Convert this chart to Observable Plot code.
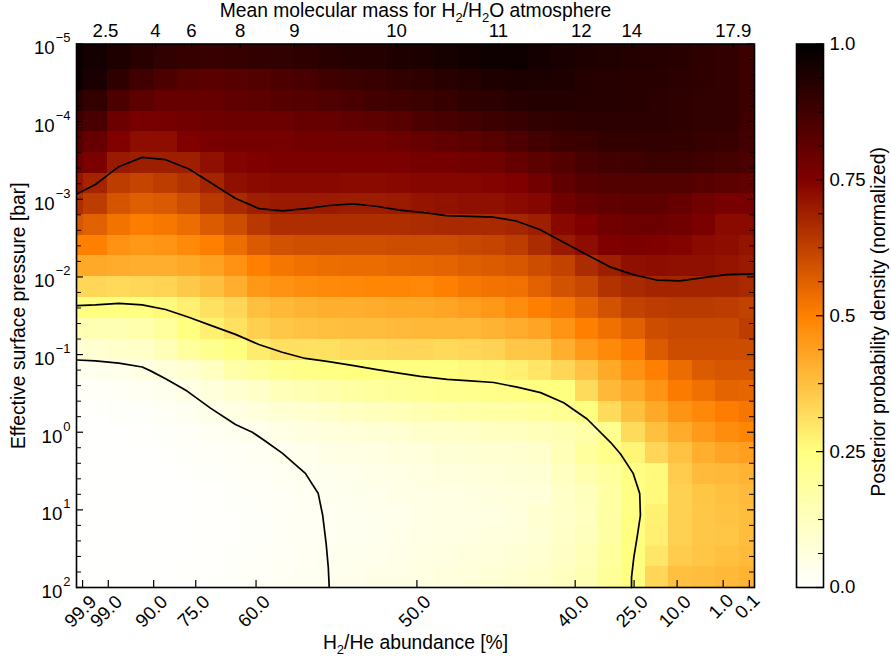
<!DOCTYPE html>
<html><head><meta charset="utf-8">
<style>html,body{margin:0;padding:0;background:#fff}#wrap{position:relative;width:891px;height:662px}#wrap svg{position:absolute;top:0}</style>
<script src="https://cdn.jsdelivr.net/npm/d3@7"></script>
<script src="https://cdn.jsdelivr.net/npm/@observablehq/plot@0.6"></script>
</head><body><div id="wrap"></div>
<script>
const FONT = "Liberation Sans";
// Cell edges: x in grid units of the abundance axis, y as log10(pressure / bar)
const xEdges = [0,0.31,1.31,2.31,3.31,4.31,5.31,6.31,7.31,8.31,9.31,10.31,11.31,12.31,13.31,14.31,15.32,16.33,17.33,18.33,19.33,20.33,21.33,22.33,23.33,24.33,25.33,26.33,27.33,28.35,29];
const logPEdges = [-5,-4.67,-4.4,-4.13,-3.87,-3.6,-3.33,-3.07,-2.8,-2.53,-2.27,-2,-1.73,-1.47,-1.2,-0.93,-0.67,-0.4,-0.13,0.13,0.4,0.67,0.93,1.2,1.47,1.73,2];
// Posterior density per row (top to bottom), per column (left to right)
const density = [
[.98,.96,.94,.92,.905,.895,.89,.895,.90,.905,.91,.92,.93,.93,.94,.945,.955,.965,.97,.97,.96,.95,.94,.935,.93,.925,.92,.91,.90,.88],
[.97,.95,.91,.875,.85,.83,.825,.83,.84,.85,.86,.875,.885,.89,.90,.91,.92,.93,.94,.945,.945,.94,.93,.925,.92,.92,.915,.91,.90,.88],
[.92,.90,.85,.82,.80,.80,.80,.81,.82,.83,.835,.845,.855,.87,.875,.885,.895,.91,.915,.925,.93,.93,.925,.925,.92,.915,.91,.905,.90,.88],
[.88,.86,.79,.765,.77,.775,.785,.79,.79,.79,.80,.80,.81,.82,.83,.85,.86,.87,.88,.89,.905,.91,.915,.915,.915,.915,.91,.905,.90,.875],
[.84,.80,.75,.725,.725,.75,.765,.77,.77,.77,.775,.775,.78,.78,.79,.80,.81,.82,.83,.85,.87,.88,.89,.90,.90,.905,.90,.895,.89,.87],
[.79,.76,.70,.69,.69,.69,.72,.745,.75,.755,.755,.755,.755,.755,.76,.77,.77,.775,.78,.80,.82,.84,.86,.87,.875,.885,.88,.875,.865,.855],
[.71,.68,.63,.615,.63,.65,.68,.72,.73,.735,.735,.735,.73,.73,.735,.74,.74,.74,.745,.75,.775,.81,.83,.84,.84,.84,.84,.83,.82,.81],
[.66,.63,.585,.565,.575,.60,.64,.67,.69,.70,.70,.70,.695,.695,.70,.71,.715,.72,.72,.73,.74,.78,.80,.81,.815,.815,.80,.78,.765,.765],
[.58,.56,.525,.505,.515,.535,.57,.60,.64,.66,.66,.66,.66,.66,.66,.665,.67,.67,.67,.675,.69,.735,.75,.78,.79,.79,.78,.76,.73,.73],
[.50,.50,.465,.455,.46,.48,.50,.535,.575,.59,.595,.595,.595,.595,.60,.60,.60,.61,.615,.63,.665,.70,.725,.75,.755,.75,.745,.73,.725,.71],
[.42,.42,.415,.41,.41,.42,.435,.465,.50,.52,.53,.535,.54,.54,.545,.55,.555,.565,.57,.58,.60,.62,.665,.69,.72,.725,.72,.72,.71,.70],
[.33,.33,.325,.33,.335,.355,.375,.41,.455,.465,.475,.48,.485,.49,.49,.485,.50,.515,.525,.53,.56,.59,.61,.65,.67,.68,.68,.68,.68,.67],
[.25,.25,.25,.25,.26,.28,.31,.33,.375,.39,.40,.41,.41,.415,.42,.42,.43,.44,.455,.475,.50,.52,.555,.59,.62,.63,.635,.635,.63,.62],
[.14,.15,.15,.16,.19,.25,.28,.31,.345,.36,.37,.375,.38,.38,.385,.39,.39,.39,.40,.415,.43,.46,.50,.53,.56,.60,.61,.61,.61,.63],
[.08,.09,.10,.11,.14,.19,.22,.25,.29,.31,.31,.31,.32,.325,.33,.33,.325,.33,.335,.36,.365,.41,.45,.48,.51,.57,.60,.60,.60,.60],
[.03,.035,.04,.055,.075,.09,.125,.17,.19,.22,.235,.245,.25,.25,.25,.25,.25,.26,.265,.28,.30,.33,.37,.42,.465,.50,.54,.57,.58,.58],
[.01,.015,.02,.025,.035,.05,.07,.09,.11,.135,.15,.165,.18,.19,.20,.21,.22,.225,.23,.24,.25,.25,.32,.39,.42,.46,.51,.53,.555,.55],
[.005,.005,.01,.012,.02,.03,.045,.055,.07,.085,.095,.105,.12,.13,.14,.15,.16,.17,.175,.18,.19,.21,.25,.32,.375,.42,.46,.485,.505,.52],
[.002,.003,.004,.006,.01,.015,.025,.03,.04,.05,.06,.07,.075,.08,.09,.10,.105,.11,.12,.125,.135,.15,.17,.22,.32,.375,.415,.45,.475,.49],
[.001,.002,.002,.003,.005,.01,.015,.02,.025,.035,.04,.05,.055,.06,.065,.07,.08,.085,.09,.095,.10,.14,.19,.23,.27,.33,.37,.41,.43,.44],
[.001,.001,.001,.002,.003,.006,.01,.013,.018,.025,.03,.035,.04,.045,.05,.06,.065,.07,.075,.08,.085,.12,.16,.19,.24,.26,.35,.385,.39,.40],
[.001,.001,.001,.001,.002,.004,.006,.01,.014,.02,.025,.03,.035,.04,.045,.05,.055,.06,.065,.07,.075,.11,.13,.18,.24,.26,.34,.365,.375,.385],
[0,.001,.001,.001,.002,.003,.005,.008,.012,.018,.022,.025,.03,.035,.04,.05,.055,.055,.06,.065,.09,.105,.125,.18,.245,.275,.34,.36,.37,.38],
[0,.001,.001,.001,.002,.003,.005,.008,.012,.018,.022,.026,.03,.036,.042,.05,.055,.06,.065,.07,.08,.11,.13,.18,.25,.28,.34,.36,.365,.38],
[0,.001,.001,.001,.002,.004,.006,.009,.013,.02,.025,.03,.034,.04,.046,.054,.06,.065,.07,.08,.09,.115,.14,.19,.25,.30,.35,.365,.375,.385],
[0,.001,.001,.002,.003,.005,.007,.01,.015,.022,.028,.033,.04,.045,.05,.058,.065,.07,.08,.09,.10,.125,.15,.20,.25,.33,.375,.38,.39,.40]
];
// Contours: x in grid units, y as log10(pressure / bar)
const upperX = [0.03,0.81,1.81,2.81,3.81,4.81,5.81,6.81,7.81,8.81,9.81,10.81,11.81,12.81,13.81,14.81,15.81,16.81,17.81,18.81,19.81,20.81,21.81,22.81,23.81,24.81,25.81,26.81,27.81,28.97];
const upperLogP = [-3.07,-3.19,-3.42,-3.54,-3.51,-3.39,-3.2,-3.01,-2.88,-2.85,-2.88,-2.92,-2.94,-2.91,-2.86,-2.83,-2.79,-2.78,-2.77,-2.72,-2.61,-2.45,-2.29,-2.13,-2.03,-1.96,-1.95,-1.99,-2.03,-2.04];
const middleX = [0.03,0.81,1.81,2.81,3.81,4.8,5.8,6.8,7.8,8.8,9.79,10.79,11.79,12.79,13.79,14.71,15.86,16.85,17.85,18.85,19.85,20.84,21.84,22.84,23.27,23.81,24.09,24.12,23.98,23.84,23.74,23.74];
const middleLogP = [-1.63,-1.64,-1.66,-1.64,-1.58,-1.48,-1.37,-1.26,-1.13,-1.03,-0.95,-0.91,-0.86,-0.81,-0.76,-0.72,-0.68,-0.66,-0.64,-0.58,-0.51,-0.38,-0.17,0.13,0.28,0.53,0.79,1.07,1.35,1.61,1.87,2];
const lowerX = [0.03,0.81,1.81,2.81,3.17,3.81,4.73,5.73,6.8,7.52,8.01,8.8,9.79,10.34,10.53,10.68,10.77,10.81];
const lowerLogP = [-0.93,-0.92,-0.89,-0.84,-0.79,-0.69,-0.53,-0.31,-0.1,0,0.1,0.27,0.53,0.79,1.07,1.44,1.74,2];
// Axis ticks
const bottomTickPos = [0.26,1.36,3.3,5.1,7.68,14.56,21.33,23.85,25.69,27.66,28.78];
const bottomTickLabels = ["99.9","99.0","90.0","75.0","60.0","50.0","40.0","25.0","10.0","1.0","0.1"];
const topTickPos = [1.24,3.38,4.92,7.0,9.32,13.69,18.05,21.59,23.75,28.09];
const topTickLabels = ["2.5","4","6","8","9","10","11","12","14","17.9"];
const yMajorExp = [-5,-4,-3,-2,-1,0,1,2];
const yMinorExp = [-4.8,-4.6,-4.4,-4.2,-3.8,-3.6,-3.4,-3.2,-2.8,-2.6,-2.4,-2.2,-1.8,-1.6,-1.4,-1.2,-0.8,-0.6,-0.4,-0.2,0.2,0.4,0.6,0.8,1.2,1.4,1.6,1.8];
const cbarMajor = [0,0.25,0.5,0.75,1];
const cbarMajorLabels = ["0.0","0.25","0.5","0.75","1.0"];
const cbarMinor = [0.0625,0.125,0.1875,0.3125,0.375,0.4375,0.5625,0.625,0.6875,0.8125,0.875,0.9375];
const cmapStops = [0,0.25,0.5,0.75,1];
const cmapColors = ["#ffffff","#ffff80","#ff8000","#800000","#000000"];

const W=770,H=662,MT=43.5,MB=75,ML=76,MR=16,FS=18.6,TS=19.3;
const IW=W-ML-MR, IH=H-MT-MB;
const cells=[];
density.forEach((row,r)=>row.forEach((v,c)=>cells.push({x1:xEdges[c],x2:xEdges[c+1],y1:10**logPEdges[r],y2:10**logPEdges[r+1],v})));
const line=(xs,es)=>xs.map((x,i)=>({x,p:10**es[i]}));
const colorScale={type:"linear",domain:cmapStops,range:cmapColors,interpolate:"rgb"};
const txt={fontFamily:FONT,fill:"#000",stroke:null,fontSize:FS};
const ttl={...txt,fontSize:TS};
const main=Plot.plot({width:W,height:H,marginTop:MT,marginBottom:MB,marginLeft:ML,marginRight:MR,
  style:{fontFamily:FONT,background:"transparent"},
  x:{domain:[0,29],axis:null},
  y:{type:"log",domain:[1e-5,1e2],reverse:true,axis:null},
  color:colorScale,
  marks:[
    Plot.rect(cells,{x1:"x1",x2:"x2",y1:"y1",y2:"y2",fill:"v",shapeRendering:"crispEdges"}),
    ...[[upperX,upperLogP],[middleX,middleLogP],[lowerX,lowerLogP]].map(([a,b])=>Plot.line(line(a,b),{x:"x",y:"p",stroke:"#000",strokeWidth:1.7,curve:"linear"})),
    Plot.tickX(bottomTickPos,{x:d=>d,insetTop:IH-7,stroke:"#000",strokeWidth:1.2}),
    Plot.tickX(topTickPos,{x:d=>d,insetBottom:IH-5,stroke:"#000",strokeWidth:1.2}),
    Plot.tickY(yMajorExp,{y:d=>10**d,insetRight:IW-7,stroke:"#000",strokeWidth:1.2}),
    Plot.tickY(yMajorExp,{y:d=>10**d,insetLeft:IW-7,stroke:"#000",strokeWidth:1.2}),
    Plot.tickY(yMinorExp,{y:d=>10**d,insetRight:IW-5,stroke:"#000",strokeWidth:1}),
    Plot.tickY(yMinorExp,{y:d=>10**d,insetLeft:IW-5,stroke:"#000",strokeWidth:1}),
    Plot.frame({stroke:"#000",strokeWidth:1.6}),
    Plot.text(yMajorExp,{y:d=>10**d,text:d=>"10^"+(d<0?"\u2212"+(-d):d),frameAnchor:"left",textAnchor:"end",dx:-6,dy:4.5,...txt}),
    ...[[d=>d.length>3,24],[d=>d.length<=3,19]].map(([f,dy])=>Plot.text(bottomTickPos.map((x,i)=>({x,t:bottomTickLabels[i]})).filter(d=>f(d.t)),{x:"x",text:"t",frameAnchor:"bottom",rotate:-45,textAnchor:"middle",lineAnchor:"middle",dx:-2,dy,...txt})),
    Plot.text(topTickPos.map((x,i)=>({x,t:topTickLabels[i]})),{x:"x",text:"t",frameAnchor:"top",lineAnchor:"bottom",dy:-7,...txt}),
    Plot.text(["Mean molecular mass for H\u2082/H\u2082O atmosphere"],{frameAnchor:"top",lineAnchor:"bottom",dy:-27,...ttl}),
    Plot.text(["H\u2082/He abundance [%]"],{frameAnchor:"bottom",lineAnchor:"bottom",dy:61,...ttl}),
    Plot.text(["Effective surface pressure [bar]"],{frameAnchor:"left",rotate:-90,lineAnchor:"middle",textAnchor:"middle",dx:-58,...ttl})
  ]});
const levels=d3.range(0,256).map(i=>i/256);
const cbar=Plot.plot({width:121,height:H,marginTop:MT,marginBottom:MB,marginLeft:26,marginRight:68,
  style:{fontFamily:FONT,background:"transparent"},
  x:{domain:[0,1],axis:null},
  y:{domain:[0,1],axis:null},
  color:colorScale,
  marks:[
    Plot.rect(levels,{x1:0,x2:1,y1:d=>d,y2:d=>d+1/256,fill:d=>d+1/512,shapeRendering:"crispEdges"}),
    Plot.tickY(cbarMajor,{y:d=>d,insetLeft:20,stroke:"#000",strokeWidth:1.2}),
    Plot.tickY(cbarMinor,{y:d=>d,insetLeft:22,stroke:"#000",strokeWidth:1}),
    Plot.frame({stroke:"#000",strokeWidth:1.6}),
    Plot.text(cbarMajor.map((y,i)=>({y,t:cbarMajorLabels[i]})),{y:"y",text:"t",frameAnchor:"right",textAnchor:"start",dx:6,...txt}),
    Plot.text(["Posterior probability density (normalized)"],{frameAnchor:"right",rotate:-90,lineAnchor:"middle",textAnchor:"middle",dx:55,dy:6,...ttl})
  ]});
function scripts(svg){
  svg.querySelectorAll("text").forEach(t=>{
    const s=t.textContent, NS="http://www.w3.org/2000/svg";
    const add=(str,attrs)=>{const e=document.createElementNS(NS,"tspan");e.textContent=str;for(const k in attrs)e.setAttribute(k,attrs[k]);t.appendChild(e);};
    if(s.includes("^")){const [a,b]=s.split("^");t.textContent="";add(a,{});add(b,{dy:-12,dx:1,"font-size":"13"});}
    else if(s.includes("\u2082")){const parts=s.split("\u2082");t.textContent="";parts.forEach((p,i)=>{add(p,i?{dy:-5}:{});if(i<parts.length-1)add("2",{dy:5,"font-size":"13"});});}
  });
}
scripts(main);
main.style.left="0px";cbar.style.left="770px";
const wrap=document.getElementById("wrap");wrap.appendChild(main);wrap.appendChild(cbar);
</script></body></html>
